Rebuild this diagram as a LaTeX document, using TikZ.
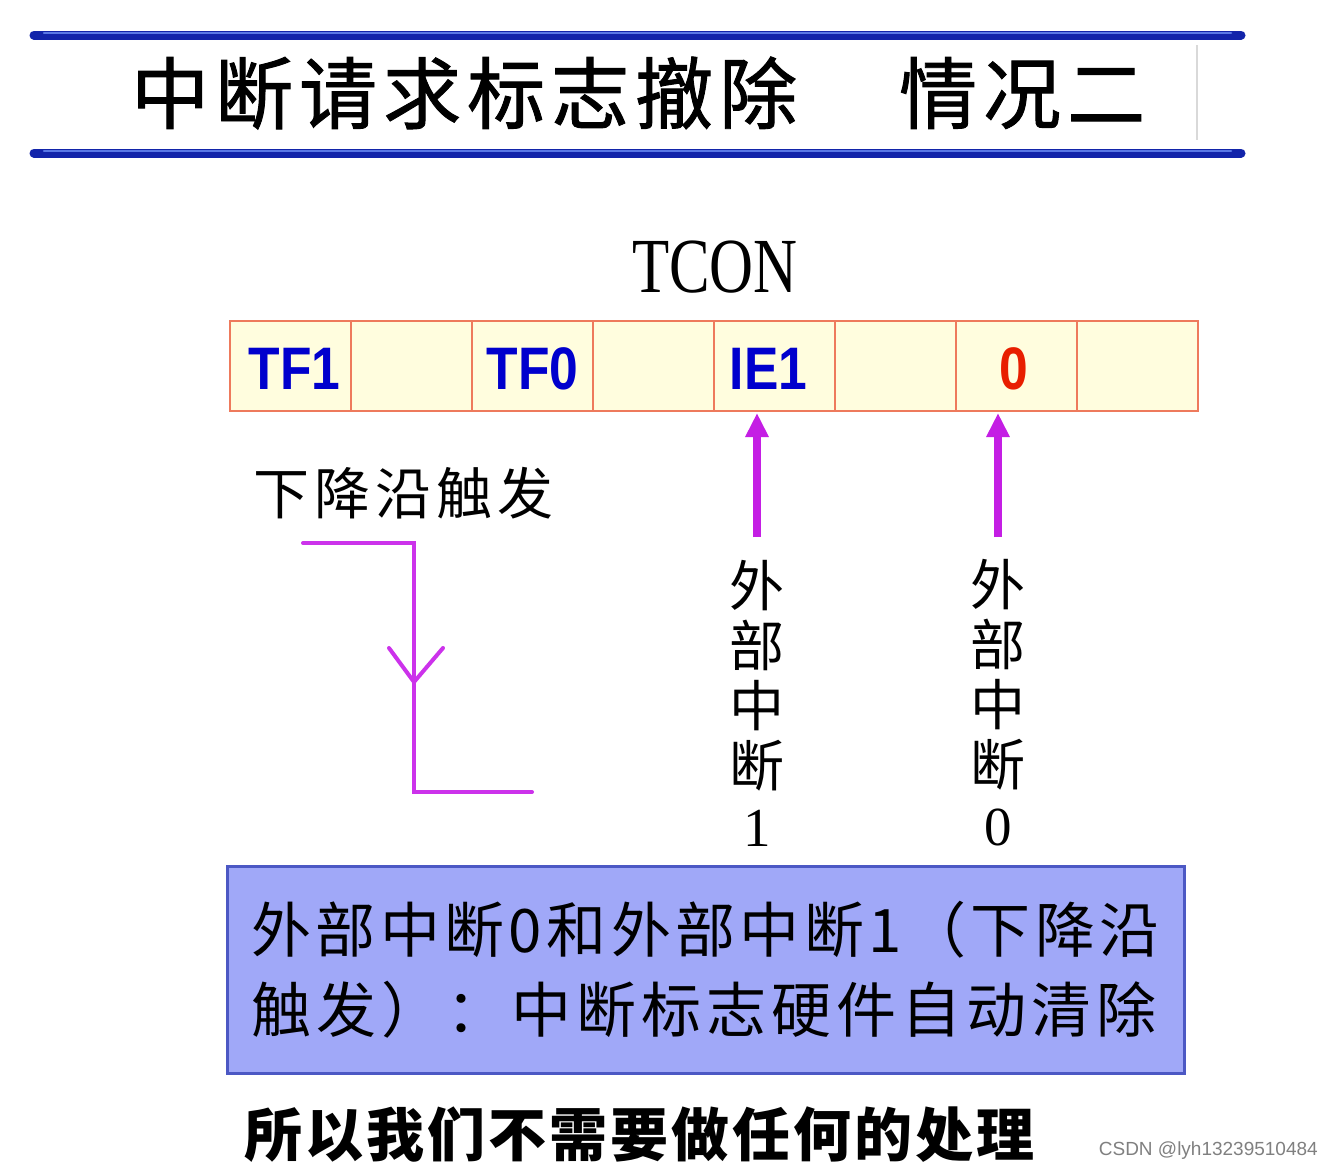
\documentclass[tikz,border=0pt]{standalone}
\usepackage{fontspec}
\usetikzlibrary{arrows.meta}
\setmainfont{Liberation Serif}
\newfontfamily\cjk{Noto Sans CJK SC}
\newfontfamily\cjkbold[FakeBold=1.2]{Noto Sans CJK SC}
\newfontfamily\tconfont[FakeStretch=0.78]{Liberation Serif}
\newfontfamily\regfont[FakeStretch=0.86]{Liberation Sans Bold}
\newfontfamily\wmfont{Liberation Sans}
\definecolor{barblue}{RGB}{18,36,170}
\definecolor{barhi}{RGB}{90,120,230}
\definecolor{cellfill}{RGB}{255,253,222}
\definecolor{celledge}{RGB}{238,122,92}
\definecolor{regblue}{RGB}{0,0,205}
\definecolor{regred}{RGB}{232,30,0}
\definecolor{arrowpurple}{RGB}{196,30,228}
\definecolor{edgepurple}{RGB}{204,50,235}
\definecolor{notefill}{RGB}{160,168,248}
\definecolor{noteedge}{RGB}{76,88,196}
\makeatletter
\protected\def\spread#1#2{\def\spr@k{\kern#1}\let\spr@first\relax
  \@tfor\spr@c:=#2\do{\spr@first\spr@c\let\spr@first\spr@k}}
\makeatother
\begin{document}
\begin{tikzpicture}[x=1pt,y=-1pt,
  titlebar/.style={line width=9pt,line cap=round,barblue},
  titlehi/.style={line width=2.5pt,line cap=round,barhi},
  cell/.style={draw=celledge,line width=1.6pt,fill=cellfill,minimum width=121pt,minimum height=90pt,inner sep=0pt},
  reglabel/.style={font=\regfont\fontsize{60}{60}\selectfont,text=regblue,inner sep=0pt},
  uparrow/.style={arrowpurple,line width=8pt,-{Triangle[width=22pt,length=24pt]}},
  edgeline/.style={edgepurple,line width=4pt,line cap=round,line join=miter},
  vlabel/.style={align=center,inner sep=0pt,font=\cjk\fontsize{55}{60}\selectfont},
  notebox/.style={draw=noteedge,line width=3pt,fill=notefill,minimum width=957pt,minimum height=207pt,align=left,inner sep=0pt,font=\cjk\fontsize{60}{80}\selectfont}
]
\useasboundingbox (0,0) rectangle (1334,1171);
\fill[white] (0,0) rectangle (1334,1171);

% title bars
\draw[titlebar] (34,35) -- (1241,35);
\draw[titlehi] (44,33) -- (1231,33);
\draw[titlebar] (34,153) -- (1241,153);
\draw[titlehi] (44,151) -- (1231,151);
\draw[black!15,line width=1.5pt] (1197,45) -- (1197,140);

% title
\node[anchor=west,inner sep=0pt,font=\cjkbold\fontsize{78}{80}\selectfont] (title1) at (131,93) {\spread{6pt}{中断请求标志撤除}};
\node[anchor=west,inner sep=0pt,font=\cjkbold\fontsize{78}{80}\selectfont] (title2) at (899,93) {\spread{6pt}{情况二}};

% TCON
\node[inner sep=0pt,font=\tconfont\fontsize{78}{80}\selectfont] (tcon) at (715,267) {TCON};

% register
\foreach \i in {0,...,7}{
  \node[cell] (c\i) at ({230+121*\i+60.5},366) {};
}
\node[reglabel] (tf1) at ([xshift=4pt,yshift=-3pt]c0) {TF1};
\node[reglabel] (tf0) at ([yshift=-3pt]c2) {TF0};
\node[reglabel] (ie1) at ([xshift=-6pt,yshift=-3pt]c4) {IE1};
\node[reglabel,text=regred] (bit0) at ([xshift=-3pt,yshift=-3pt]c6) {0};

% external interrupt labels and arrows
\node[vlabel] (ext1) at (757,703) {外\\部\\中\\断\\{\rmfamily 1}};
\node[vlabel] (ext0) at (998,703) {外\\部\\中\\断\\{\rmfamily 0}};
\coordinate (a1s) at (757,537);
\coordinate (a1e) at (757,413);
\coordinate (a0s) at (998,537);
\coordinate (a0e) at (998,413);
\draw[uparrow] (a1s) -- (a1e);
\draw[uparrow] (a0s) -- (a0e);

% falling edge
\node[anchor=west,inner sep=0pt,font=\cjk\fontsize{56}{60}\selectfont] (falling) at (253,493) {\spread{5pt}{下降沿触发}};
\coordinate (e1) at (303,543);
\coordinate (e2) at (414,543);
\coordinate (e3) at (414,792);
\coordinate (e4) at (532,792);
\coordinate (vtip) at (414,682);
\coordinate (vl) at (389,648);
\coordinate (vr) at (443,648);
\draw[edgeline] (e1) -- (e2) -- (e3) -- (e4);
\draw[edgeline,line join=round] (vl) -- (vtip) -- (vr);

% note box
\node[notebox] (note) at (705.5,969.5) {\spread{4.4pt}{外部中断0和外部中断1（下降沿}\\\spread{5pt}{触发）：中断标志硬件自动清除}};

% bottom text
\node[inner sep=0pt,anchor=west,font=\cjk\bfseries\fontsize{58}{60}\selectfont] (bottom) at (244,1135) {\spread{3pt}{所以我们不需要做任何的处理}};

% watermark
\node[anchor=east,inner sep=0pt,text=black!50,font=\wmfont\fontsize{19}{20}\selectfont] (wm) at (1318,1151) {CSDN @lyh13239510484};
\end{tikzpicture}
\end{document}
